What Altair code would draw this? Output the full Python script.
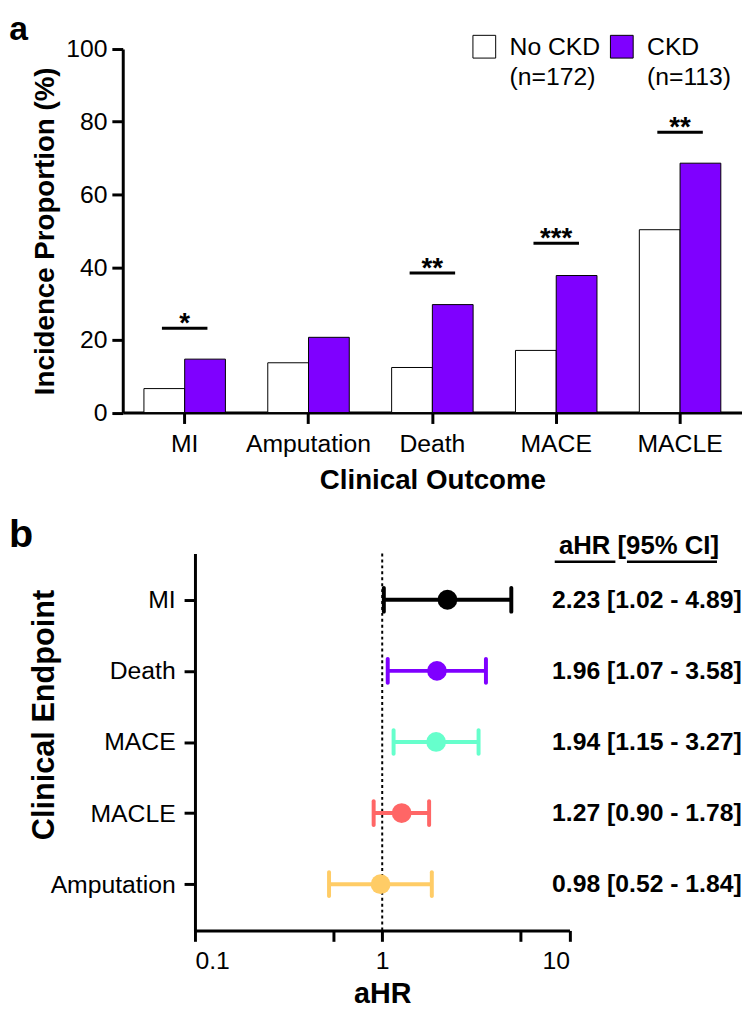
import altair as alt
import pandas as pd

# ---------------- Panel a data ----------------
outcomes = ["MI", "Amputation", "Death", "MACE", "MACLE"]
groups = ["No CKD", "CKD"]
no_ckd = [6.6, 13.7, 12.4, 17.1, 50.3]
ckd = [14.7, 20.7, 29.7, 37.7, 68.6]
sig_outcomes = ["MI", "Death", "MACE", "MACLE"]
sig_height = [23.2, 38.4, 46.6, 77.1]
sig_stars = ["*", "**", "***", "**"]
y_ticks = [0, 10, 20, 30, 40, 50, 60, 70, 80, 90, 100]

# ---------------- Panel b data ----------------
endpoints = ["MI", "Death", "MACE", "MACLE", "Amputation"]
ahr = [2.23, 1.96, 1.94, 1.27, 0.98]
ci_low = [1.02, 1.07, 1.15, 0.90, 0.52]
ci_high = [4.89, 3.58, 3.27, 1.78, 1.84]
ep_colors = ["#000000", "#7F00FF", "#66FFCC", "#FF6666", "#FFCC66"]
x_ticks = [0.1, 0.55, 1, 5.5, 10]

FONT = "Liberation Sans"


def one_row(col, val):
    return pd.DataFrame({col: [val]})


df_a = pd.DataFrame({
    "Outcome": outcomes * 2,
    "Group": [groups[0]] * len(outcomes) + [groups[1]] * len(outcomes),
    "Value": no_ckd + ckd,
})
df_sig = pd.DataFrame({"Outcome": sig_outcomes, "Sig": sig_height, "Stars": sig_stars})

WA, HA = 626, 367.5

x_a = alt.X(
    "Outcome:N", sort=outcomes,
    scale=alt.Scale(paddingInner=0.342, paddingOuter=0.171),
    axis=alt.Axis(
        title="Clinical Outcome", labelAngle=0, labelFontSize=25, labelPadding=8,
        tickSize=11, tickWidth=3, domainWidth=3, tickColor="black", domainColor="black",
        labelColor="black", titleFontSize=28, titleFontWeight="bold", titlePadding=11,
        titleColor="black",
    ),
)
y_a = alt.Y(
    "Value:Q", scale=alt.Scale(domain=[0, 100], nice=False),
    axis=alt.Axis(
        title="Incidence Proportion (%)", values=y_ticks,
        labelExpr="datum.value % 20 == 0 ? datum.label : ''",
        labelFontSize=25, labelPadding=5, tickSize=11, tickWidth=3, domainWidth=3,
        tickColor="black", domainColor="black", labelColor="black", grid=False,
        titleFontSize=28, titleFontWeight="bold", titleColor="black",
        titleX=-69.7, titleBaseline="alphabetic",
    ),
)

bars = alt.Chart(df_a).mark_bar(stroke="black", strokeWidth=1).encode(
    x=x_a,
    xOffset=alt.XOffset("Group:N", sort=groups, scale=alt.Scale(paddingInner=0, paddingOuter=0)),
    y=y_a,
    fill=alt.Fill(
        "Group:N", sort=groups,
        scale=alt.Scale(domain=groups, range=["#FFFFFF", "#7F00FF"]),
        legend=alt.Legend(
            title=None, orient="none", legendX=469, legendY=-15.1, direction="horizontal",
            columns=2, symbolType="square", symbolSize=529, symbolStrokeColor="black",
            symbolStrokeWidth=1, labelFontSize=25, labelColor="black", labelLimit=400,
            labelOffset=13, columnPadding=8, labelBaseline="middle",
            labelExpr="datum.label == 'No CKD' ? ['No CKD', '(n=172)'] : ['CKD', '(n=113)']",
        ),
    ),
)

sig_lines = alt.Chart(df_sig).mark_tick(
    orient="horizontal", size=46, thickness=3, color="black", opacity=1
).encode(x=alt.X("Outcome:N", sort=outcomes), y=alt.Y("Sig:Q"))

sig_text = alt.Chart(df_sig).mark_text(
    fontSize=28, fontWeight="bold", baseline="alphabetic", dy=4, color="black"
).encode(x=alt.X("Outcome:N", sort=outcomes), y=alt.Y("Sig:Q"), text="Stars:N")

letter_a = alt.Chart(one_row("t", "a")).mark_text(
    align="left", baseline="alphabetic", fontSize=34, fontWeight="bold", color="black"
).encode(x=alt.value(-114.7), y=alt.value(-9), text="t:N")

panel_a = alt.layer(bars, sig_lines, sig_text, letter_a).properties(width=WA, height=HA)

# ---------------- Panel b ----------------
df_b = pd.DataFrame({
    "Endpoint": endpoints, "aHR": ahr, "Low": ci_low, "High": ci_high, "Color": ep_colors,
})
df_b["Label"] = [f"{a:.2f} [{l:.2f} - {h:.2f}]" for a, l, h in zip(ahr, ci_low, ci_high)]

WB, HB = 378.6, 381

x_b_scale = alt.Scale(type="log", domain=[0.1, 10], nice=False)
y_b = alt.Y(
    "Endpoint:N", sort=endpoints,
    scale=alt.Scale(type="point", padding=0.65),
    axis=alt.Axis(
        title="Clinical Endpoint", labelFontSize=25, labelPadding=9, tickSize=11,
        tickWidth=3, domainWidth=3, tickColor="black", domainColor="black",
        labelColor="black", titleFontSize=31, titleFontWeight="bold", titleColor="black",
        titleX=-143, titleY=162.7, titleBaseline="alphabetic", titleAngle=270,
    ),
)
x_b_axis = alt.Axis(
    title="aHR", values=x_ticks, format="~g",
    labelExpr="datum.value == 0.55 || datum.value == 5.5 ? '' : datum.label",
    labelFontSize=25, labelPadding=7.5, tickSize=11, tickWidth=3, domainWidth=3,
    tickColor="black", domainColor="black", labelColor="black", grid=False,
    titleFontSize=29, titleFontWeight="bold", titleColor="black", titlePadding=6,
)

ref_line = alt.Chart(one_row("ref", 1)).mark_rule(
    color="black", strokeWidth=2, strokeDash=[3, 3]
).encode(x=alt.X("ref:Q", scale=x_b_scale, axis=x_b_axis))

ci_rule = alt.Chart(df_b).mark_rule(strokeWidth=4).encode(
    x=alt.X("Low:Q", scale=x_b_scale), x2="High:Q", y=y_b,
    color=alt.Color("Color:N", scale=None),
)
cap_lo = alt.Chart(df_b).mark_tick(orient="vertical", size=28, thickness=4, cornerRadius=2, opacity=1).encode(
    x=alt.X("Low:Q", scale=x_b_scale), y=y_b, color=alt.Color("Color:N", scale=None),
)
cap_hi = alt.Chart(df_b).mark_tick(orient="vertical", size=28, thickness=4, cornerRadius=2, opacity=1).encode(
    x=alt.X("High:Q", scale=x_b_scale), y=y_b, color=alt.Color("Color:N", scale=None),
)
pts = alt.Chart(df_b).mark_circle(size=400, opacity=1).encode(
    x=alt.X("aHR:Q", scale=x_b_scale), y=y_b, color=alt.Color("Color:N", scale=None),
)
labels = alt.Chart(df_b).mark_text(
    align="left", baseline="middle", fontSize=25, fontWeight="bold", color="black"
).encode(x=alt.value(361), y=y_b, text="Label:N")

header = alt.Chart(one_row("h", "aHR [95% CI]")).mark_text(
    align="left", baseline="alphabetic", fontSize=26, fontWeight="bold", color="black"
).encode(x=alt.value(368), y=alt.value(0.7), text="h:N")
ul1 = alt.Chart(one_row("u", 0)).mark_rule(color="black", strokeWidth=2.5).encode(
    x=alt.value(363.7), x2=alt.value(425), y=alt.value(8.4))
ul2 = alt.Chart(one_row("u", 0)).mark_rule(color="black", strokeWidth=2.5).encode(
    x=alt.value(436.7), x2=alt.value(527.7), y=alt.value(8.4))

letter_b = alt.Chart(one_row("t", "b")).mark_text(
    align="left", baseline="alphabetic", fontSize=40, fontWeight="bold", color="black"
).encode(x=alt.value(-188), y=alt.value(-6.3), text="t:N")

panel_b = alt.layer(ref_line, ci_rule, cap_lo, cap_hi, pts, labels, header, ul1, ul2, letter_b).properties(
    width=WB, height=HB,
)


def spacer():
    return alt.Chart(one_row("s", "")).mark_text().encode(
        text="s:N", x=alt.value(0), y=alt.value(0)
    ).properties(width=1, height=1)


row_a = alt.hconcat(spacer(), panel_a, spacing=0)
row_b = alt.hconcat(spacer(), panel_b, spacing=0)

chart = alt.vconcat(row_a, row_b, spacing=20).properties(
    padding={"left": 0, "top": 0, "right": 0, "bottom": 0}
).configure(
    font=FONT, style={"guide-label": {"lineHeight": 31}}
).configure_view(stroke=None)

chart.save("out.html", embed_options={"renderer": "svg", "actions": False})
